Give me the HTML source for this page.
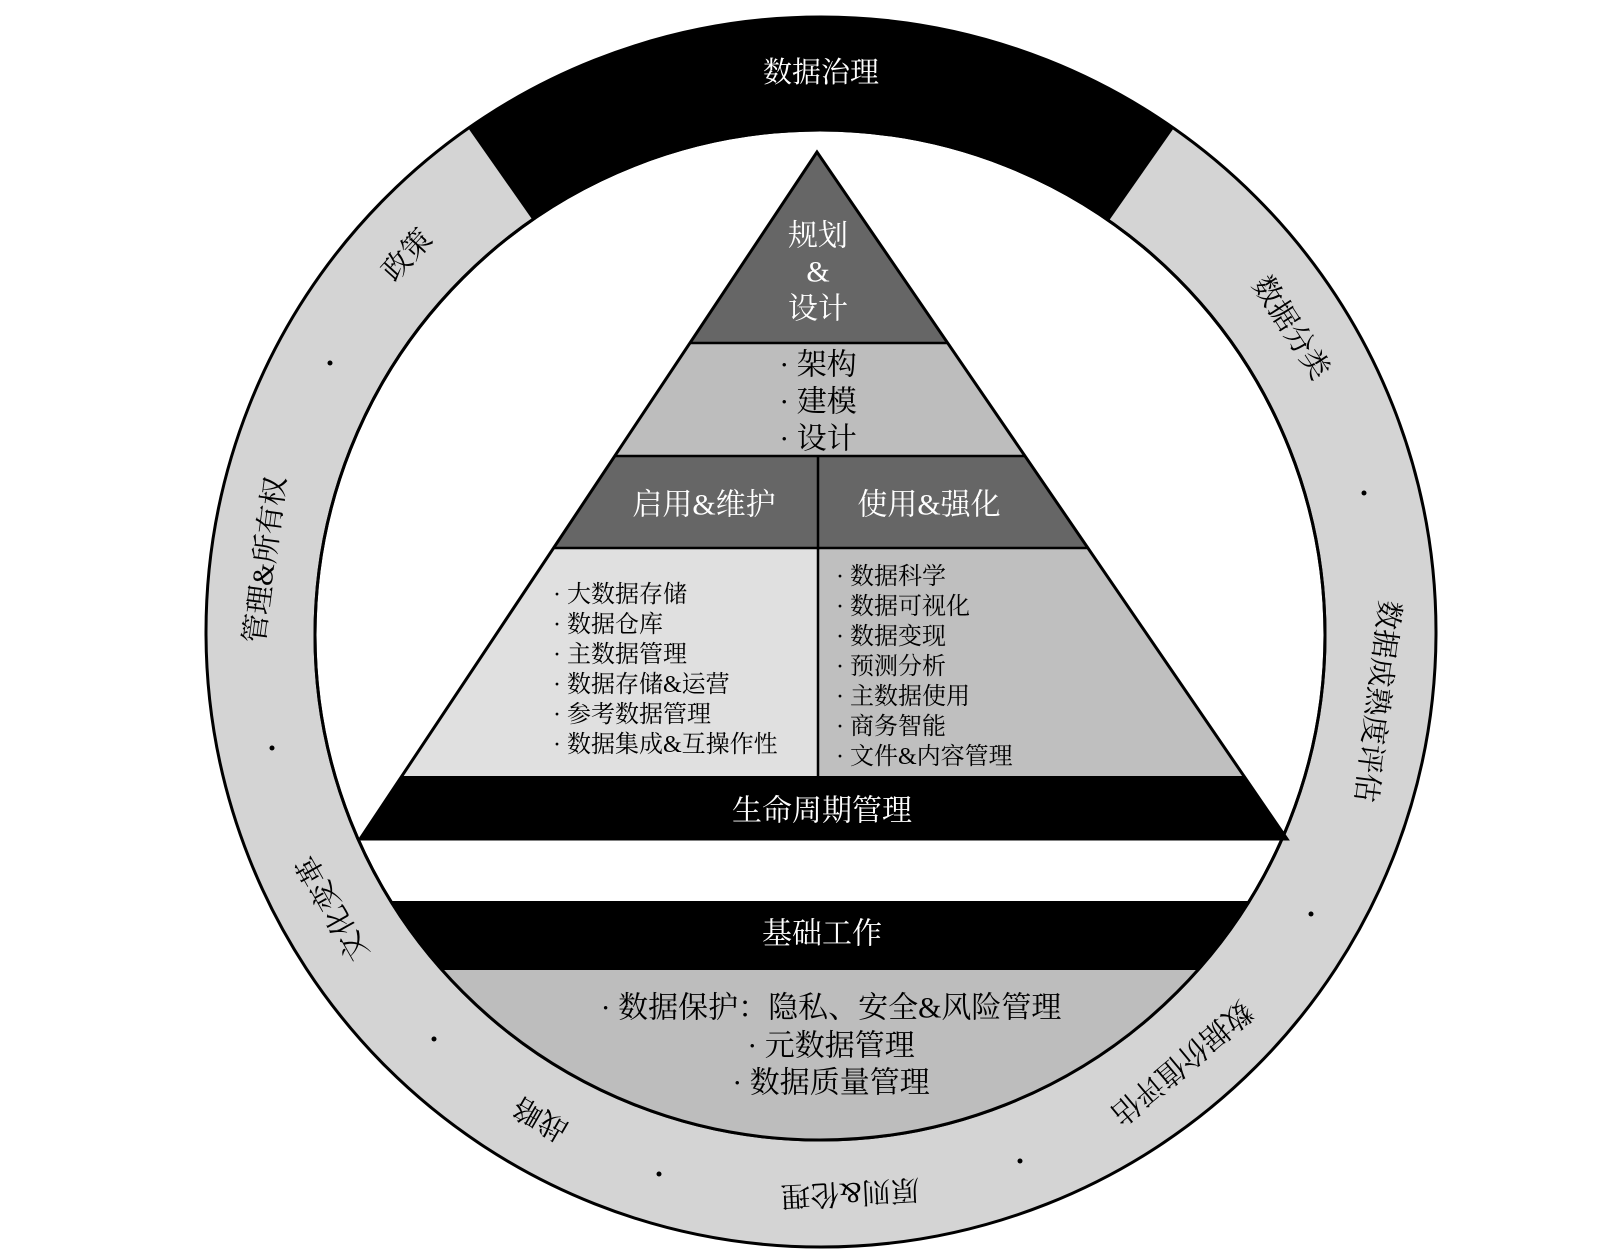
<!DOCTYPE html>
<html><head><meta charset="utf-8"><style>
html,body{margin:0;padding:0;background:#fff;}
svg{display:block;}
text{font-family:"Liberation Serif","Noto Serif CJK SC",serif;}
</style></head><body>
<svg width="1620" height="1259" viewBox="0 0 1620 1259" xmlns="http://www.w3.org/2000/svg">
<defs>
<clipPath id="inner"><circle cx="820" cy="635" r="505"/></clipPath>
<clipPath id="pyr"><polygon points="817,152 360,839 1287,839"/></clipPath>
</defs>
<circle cx="821" cy="632" r="615" fill="#d4d4d4" stroke="#000" stroke-width="3"/>
<path d="M 821 632 L 468.3 128.2 A 615 615 0 0 1 1173.7 128.2 Z" fill="#000"/>
<circle cx="820" cy="635" r="505" fill="#fff" stroke="#000" stroke-width="3"/>
<g clip-path="url(#inner)">
<rect x="300" y="901" width="1050" height="68" fill="#000"/>
<rect x="300" y="969" width="1050" height="200" fill="#bdbdbd"/>
<line x1="300" y1="969" x2="1350" y2="969" stroke="#000" stroke-width="2"/>
</g>
<circle cx="820" cy="635" r="505" fill="none" stroke="#000" stroke-width="3"/>
<g clip-path="url(#pyr)">
<rect x="300" y="140" width="1000" height="203" fill="#666"/>
<rect x="300" y="343" width="1000" height="113" fill="#bdbdbd"/>
<rect x="300" y="456" width="1000" height="92" fill="#666"/>
<rect x="300" y="548" width="518" height="228" fill="#e0e0e0"/>
<rect x="818" y="548" width="500" height="228" fill="#bfbfbf"/>
<rect x="300" y="776" width="1000" height="63" fill="#000"/>
<g stroke="#000" stroke-width="2.5">
<line x1="300" y1="343" x2="1300" y2="343"/>
<line x1="300" y1="456" x2="1300" y2="456"/>
<line x1="300" y1="548" x2="1300" y2="548"/>
<line x1="818" y1="456" x2="818" y2="776"/>
</g>
</g>
<polygon points="817,152 360,839 1287,839" fill="none" stroke="#000" stroke-width="3"/>

<g font-size="30" text-anchor="middle" dominant-baseline="central">
<text x="818" y="236" fill="#fff">规划</text>
<text x="818" y="272" fill="#fff">&amp;</text>
<text x="818" y="309" fill="#fff">设计</text>
<text x="818" y="365" fill="#000">· 架构</text>
<text x="818" y="402" fill="#000">· 建模</text>
<text x="818" y="439" fill="#000">· 设计</text>
<text x="704" y="505" fill="#fff">启用&amp;维护</text>
<text x="929" y="505" fill="#fff">使用&amp;强化</text>
<text x="822" y="811" fill="#fff">生命周期管理</text>
<text x="822" y="934" fill="#fff">基础工作</text>
<text x="831" y="1008" fill="#000">· 数据保护：隐私、安全&amp;风险管理</text>
<text x="831" y="1046" fill="#000">· 元数据管理</text>
<text x="831" y="1083" fill="#000">· 数据质量管理</text>
</g>
<g font-size="24" dominant-baseline="central" fill="#000">
<text x="553" y="595">· 大数据存储</text>
<text x="553" y="625">· 数据仓库</text>
<text x="553" y="655">· 主数据管理</text>
<text x="553" y="685">· 数据存储&amp;运营</text>
<text x="553" y="715">· 参考数据管理</text>
<text x="553" y="745">· 数据集成&amp;互操作性</text>
<text x="836" y="577">· 数据科学</text>
<text x="836" y="607">· 数据可视化</text>
<text x="836" y="637">· 数据变现</text>
<text x="836" y="667">· 预测分析</text>
<text x="836" y="697">· 主数据使用</text>
<text x="836" y="727">· 商务智能</text>
<text x="836" y="757">· 文件&amp;内容管理</text>
</g>

<g font-size="29" text-anchor="middle" dominant-baseline="central">
<text x="821" y="73" fill="#fff">数据治理</text>
<text x="821" y="73" fill="#000" transform="rotate(-47.6 821 633)">政策</text>
<text x="821" y="73" fill="#000" transform="rotate(57 821 633)">数据分类</text>
<text x="821" y="73" fill="#000" transform="rotate(-82.5 821 633)">管理&amp;所有权</text>
<text x="821" y="73" fill="#000" transform="rotate(97 821 633)">数据成熟度评估</text>
<text x="821" y="73" fill="#000" transform="rotate(-119.4 821 633)">文化变革</text>
<text x="821" y="73" fill="#000" transform="rotate(-150 821 633)">战略</text>
<text x="821" y="73" fill="#000" transform="rotate(177 821 633)">原则&amp;伦理</text>
<text x="821" y="73" fill="#000" transform="rotate(140 821 633)">数据价值评估</text>
</g>
<g fill="#000">
<circle cx="330" cy="363" r="2.5"/>
<circle cx="272" cy="748" r="2.5"/>
<circle cx="434" cy="1039" r="2.5"/>
<circle cx="659" cy="1174" r="2.5"/>
<circle cx="1020" cy="1161" r="2.5"/>
<circle cx="1311" cy="914" r="2.5"/>
<circle cx="1364" cy="493" r="2.5"/>
</g>
</svg>
</body></html>
